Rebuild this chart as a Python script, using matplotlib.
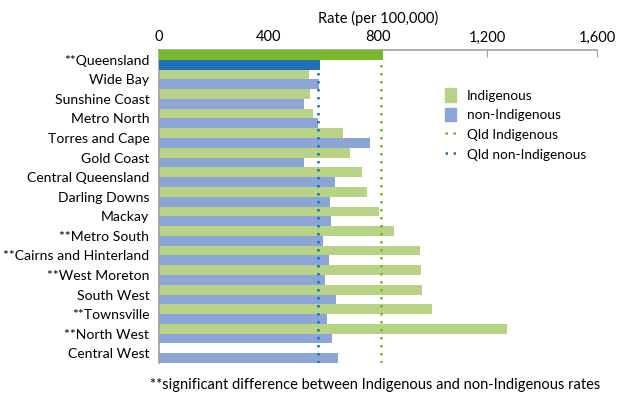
# Hospitalisation rates by HHS, Indigenous vs non-Indigenous
import matplotlib.pyplot as plt
import numpy as np
from matplotlib.lines import Line2D
from matplotlib.patches import Patch

plt.rcParams['font.family'] = ['Lato', 'DejaVu Sans']

regions = ['**Queensland', 'Wide Bay', 'Sunshine Coast', 'Metro North',
           'Torres and Cape', 'Gold Coast', 'Central Queensland',
           'Darling Downs', 'Mackay', '**Metro South',
           '**Cairns and Hinterland', '**West Moreton', 'South West',
           '**Townsville', '**North West', 'Central West']
indigenous = [817, 548, 552, 563, 672, 698, 742, 760, 804, 858,
              953, 957, 961, 997, 1271, 0]
non_indigenous = [588, 584, 530, 582, 771, 530, 643, 625, 628, 599,
                  621, 606, 647, 614, 632, 654]
qld_indigenous = 812
qld_non_indigenous = 580
xticks = [0, 400, 800, 1200, 1600]
xticklabels = ['0', '400', '800', '1,200', '1,600']

c_ind = '#b8d386'
c_non = '#8ba6d6'
c_qld_ind = '#79b82b'
c_qld_non = '#1f70b8'
fs = 10.5

fig = plt.figure(figsize=(6.22, 4), dpi=100)
ax = fig.add_axes([0.2556, 0.0925, 0.7042, 0.7825])

n = len(regions)
pos = np.arange(n) * 2
g_cols = [c_qld_ind] + [c_ind] * (n - 1)
b_cols = [c_qld_non] + [c_non] * (n - 1)
ax.barh(pos, indigenous, height=1.0, color=g_cols, zorder=2)
ax.barh(pos + 1, non_indigenous, height=1.0, color=b_cols, zorder=2)
# redraw the Queensland bars above the reference lines
ax.barh([0], [indigenous[0]], height=1.0, color=c_qld_ind, zorder=5)
ax.barh([1], [non_indigenous[0]], height=1.0, color=c_qld_non, zorder=5)

ax.axvline(qld_indigenous, color=c_qld_ind, ls=(0, (1, 2.2)), lw=1.8, zorder=4)
ax.axvline(qld_non_indigenous, color=c_qld_non, ls=(0, (1, 2.2)), lw=1.8, zorder=4)

ax.set_xlim(0, 1600)
ax.set_ylim(2 * n - 0.5, -0.5)
ax.set_yticks(pos + 0.5)
ax.set_yticklabels(regions, fontsize=10.1)
ax.tick_params(axis='y', length=0, pad=7)
ax.xaxis.tick_top()
ax.xaxis.set_label_position('top')
ax.set_xticks(xticks)
ax.set_xticklabels(xticklabels, fontsize=fs)
ax.tick_params(axis='x', direction='in', length=5, color='#a0a0a0', pad=4)
ax.set_xlabel('Rate (per 100,000)', fontsize=fs, labelpad=5)

for s in ['right', 'bottom']:
    ax.spines[s].set_visible(False)
for s in ['top', 'left']:
    ax.spines[s].set_color('#a0a0a0')
    ax.spines[s].set_linewidth(1.2)

handles = [Patch(color=c_ind, label='Indigenous'),
           Patch(color=c_non, label='non-Indigenous'),
           Line2D([], [], color=c_qld_ind, ls=(0, (1, 2.2)), lw=1.8, label='Qld Indigenous'),
           Line2D([], [], color=c_qld_non, ls=(0, (1, 2.2)), lw=1.8, label='Qld non-Indigenous')]
fig.legend(handles=handles, loc='upper left', bbox_to_anchor=(0.695, 0.81),
           frameon=False, fontsize=9.8, handlelength=0.85, handleheight=1.15,
           labelspacing=0.45, handletextpad=0.8)

fig.text(0.603, 0.028, '**significant difference between Indigenous and non-Indigenous rates',
         ha='center', fontsize=fs)

fig.savefig('out.png', dpi=100)
